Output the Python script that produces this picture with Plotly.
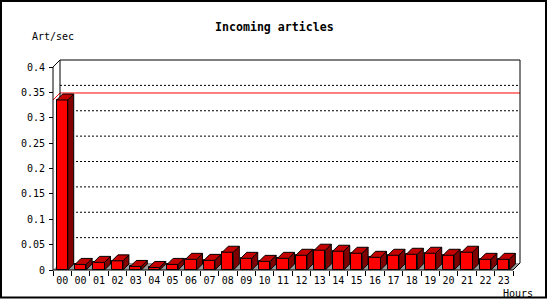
import plotly.graph_objects as go

# ---- data ----
hour_labels = ["00", "00", "01", "02", "03", "04", "05", "06", "07", "08", "09", "10",
               "11", "12", "13", "14", "15", "16", "17", "18", "19", "20", "21", "22", "23"]
art_per_sec = [0.335, 0.011, 0.015, 0.018, 0.007, 0.005, 0.011, 0.021, 0.019, 0.035,
               0.023, 0.017, 0.023, 0.029, 0.039, 0.037, 0.033, 0.025, 0.029, 0.031,
               0.033, 0.029, 0.035, 0.021, 0.021]
y_tick_vals = [0, 0.05, 0.1, 0.15, 0.2, 0.25, 0.3, 0.35, 0.4]
y_tick_text = ["0", "0.05", "0.1", "0.15", "0.2", "0.25", "0.3", "0.35", "0.4"]
grid_vals = [0.05, 0.1, 0.15, 0.2, 0.25, 0.3, 0.35]

# ---- geometry (pixels) ----
W, H = 550, 300
X0_PX = 53          # left edge of front plane
Y0_PX = 270         # zero line (from top)
CAT_PX = 460 / 25   # category width
PPU = 203 / 0.4     # pixels per y unit
FRAME_D = 7         # back plane depth offset
BAR_D = 6           # bar depth
n = len(art_per_sec)
ymax = y_tick_vals[-1]

fdx = FRAME_D / CAT_PX
fdy = FRAME_D / PPU
bdx = BAR_D / CAT_PX
bdy = BAR_D / PPU
hw = 0.3

centers = [i + 0.5 for i in range(n)]

fig = go.Figure()

# front faces
fig.add_trace(go.Bar(x=centers, y=art_per_sec, width=2 * hw,
                     marker=dict(color="#ff0000", line=dict(color="black", width=1)),
                     hoverinfo="skip", showlegend=False))

# side faces & top faces
sx, sy, tx, ty = [], [], [], []
for c, v in zip(centers, art_per_sec):
    r = c + hw
    l = c - hw
    sx += [r, r + bdx, r + bdx, r, r, None]
    sy += [0, bdy, v + bdy, v, 0, None]
    tx += [l, r, r + bdx, l + bdx, l, None]
    ty += [v, v, v + bdy, v + bdy, v, None]
fig.add_trace(go.Scatter(x=sx, y=sy, mode="lines", fill="toself", fillcolor="#800000",
                         line=dict(color="black", width=1), hoverinfo="skip", showlegend=False))
fig.add_trace(go.Scatter(x=tx, y=ty, mode="lines", fill="toself", fillcolor="#c40000",
                         line=dict(color="black", width=1), hoverinfo="skip", showlegend=False))

shapes = []
# floor
shapes.append(dict(type="path", xref="x", yref="y", layer="below",
                   path=f"M 0 0 L {n} 0 L {n+fdx} {fdy} L {fdx} {fdy} Z",
                   fillcolor="#999999", line=dict(width=0)))
# back grid lines
for g in grid_vals:
    shapes.append(dict(type="line", xref="x", yref="y", layer="below",
                       x0=fdx, x1=n + fdx, y0=g + fdy, y1=g + fdy,
                       line=dict(color="black", width=1, dash="2px,2px")))
# max line
m = max(art_per_sec)
shapes.append(dict(type="path", xref="x", yref="y", layer="below",
                   path=f"M 0 {m} L {fdx} {m+fdy} L {n+fdx} {m+fdy}",
                   line=dict(color="#ff0000", width=1)))
# frame lines
frame = [
    (fdx, ymax + fdy, n + fdx, ymax + fdy),
    (n + fdx, fdy, n + fdx, ymax + fdy),
    (fdx, fdy, fdx, ymax + fdy),
    (0, 0, 0, ymax),
    (0, ymax, fdx, ymax + fdy),
    (0, 0, n, 0),
    (n, 0, n + fdx, fdy),
]
for x0, y0, x1, y1 in frame:
    shapes.append(dict(type="line", xref="x", yref="y", layer="below",
                       x0=x0, y0=y0, x1=x1, y1=y1, line=dict(color="black", width=1)))
# image border
shapes.append(dict(type="rect", xref="paper", yref="paper",
                   x0=1 / W, x1=546 / W, y0=1 - 297.5 / H, y1=1 - 1 / H,
                   line=dict(color="black", width=2)))

font = dict(family="DejaVu Sans Mono", size=10, color="black")

annotations = [
    dict(text="<b>Incoming articles</b>", x=274 / W, y=1 - 26.5 / H, xref="paper", yref="paper",
         showarrow=False, xanchor="center", yanchor="middle",
         font=dict(family="DejaVu Sans Mono", size=11.6, color="black")),
    dict(text="Art/sec", x=30 / W, y=1 - 37 / H, xref="paper", yref="paper",
         showarrow=False, xanchor="left", yanchor="middle", font=font),
    dict(text="Hours", x=535 / W, y=1 - 293.5 / H, xref="paper", yref="paper",
         showarrow=False, xanchor="right", yanchor="middle", font=font),
]

fig.update_layout(
    width=W, height=H, margin=dict(l=0, r=0, t=0, b=0),
    paper_bgcolor="white", plot_bgcolor="white",
    showlegend=False, shapes=shapes, annotations=annotations, font=font,
    bargap=0,
    xaxis=dict(domain=[0, 1], range=[-X0_PX / CAT_PX, (W - X0_PX) / CAT_PX],
               anchor="free", position=(H - Y0_PX) / H,
               showgrid=False, zeroline=False, showline=False,
               tickmode="array", tickvals=centers, ticktext=hour_labels,
               ticks="outside", ticklen=1, tickcolor="rgba(0,0,0,0)",
               minor=dict(tickmode="array", tickvals=list(range(n + 1)),
                          ticks="outside", ticklen=5, tickcolor="black", showgrid=False),
               tickfont=font),
    yaxis=dict(domain=[0, 1], range=[-(H - Y0_PX) / PPU, Y0_PX / PPU],
               anchor="free", position=X0_PX / W,
               showgrid=False, zeroline=False, showline=False,
               tickmode="array", tickvals=y_tick_vals, ticktext=y_tick_text,
               ticks="outside", ticklen=4, tickcolor="black", tickfont=font,
               ticklabelstandoff=2),
)

fig.write_html("out.html")
